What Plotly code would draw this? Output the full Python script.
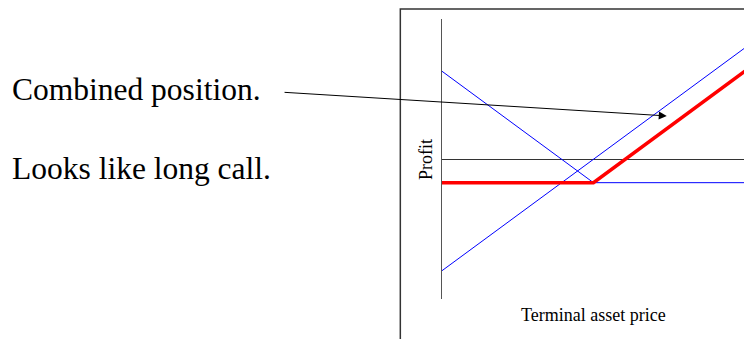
import plotly.graph_objects as go

# Terminal asset price grid and profit profiles (strike 100, stock bought at 100, put premium ~21)
prices = [0, 100, 200]
long_put = [79, -21, -21]
long_stock = [-100, 0, 100]
combined = [-21, -21, 79]

serif = "Liberation Serif, Times New Roman, serif"

fig = go.Figure()
fig.add_trace(go.Scatter(x=prices, y=long_put, mode="lines",
                         line=dict(color="#0000ff", width=1), hoverinfo="skip"))
fig.add_trace(go.Scatter(x=prices, y=long_stock, mode="lines",
                         line=dict(color="#0000ff", width=1), hoverinfo="skip"))
fig.add_trace(go.Scatter(x=prices, y=combined, mode="lines",
                         line=dict(color="#ff0000", width=3.5), hoverinfo="skip"))

fig.update_layout(
    width=744, height=339,
    margin=dict(l=441.7, r=0, t=19, b=40, autoexpand=False),
    paper_bgcolor="white", plot_bgcolor="white",
    showlegend=False,
    xaxis=dict(range=[0, 199.4], showgrid=False, zeroline=False,
               showticklabels=False, ticks="", showline=False, fixedrange=True),
    yaxis=dict(range=[-125.4, 125.9], showgrid=False, zeroline=True,
               zerolinecolor="#333333", zerolinewidth=1,
               showticklabels=False, ticks="", showline=True,
               linecolor="#555555", linewidth=1.5, fixedrange=True),
    shapes=[dict(type="rect", xref="paper", yref="paper",
                 x0=-0.138, x1=1.2, y0=-0.5, y1=1.036,
                 line=dict(color="#333333", width=1.5), fillcolor="rgba(0,0,0,0)",
                 layer="below")],
    annotations=[
        dict(text="Profit", xref="paper", yref="paper", x=-0.053, y=0.5,
             textangle=-90, showarrow=False, xanchor="center", yanchor="middle",
             font=dict(family=serif, size=18, color="black")),
        dict(text="Terminal asset price", xref="paper", yref="paper", x=0.5, y=-0.058,
             showarrow=False, xanchor="center", yanchor="middle",
             font=dict(family=serif, size=18, color="black")),
        dict(text="Combined position.", xref="paper", yref="paper",
             x=-1.43, y=0.75, showarrow=False, xanchor="left", yanchor="middle",
             font=dict(family=serif, size=31.5, color="black")),
        dict(text="Looks like long call.", xref="paper", yref="paper",
             x=-1.43, y=0.467, showarrow=False, xanchor="left", yanchor="middle",
             font=dict(family=serif, size=31.5, color="black")),
        dict(text="", x=148.4, y=38.9, xref="x", yref="y",
             showarrow=True, ax=-383.7, ay=-23.7, arrowhead=2, arrowsize=1.6,
             arrowwidth=1, arrowcolor="black", standoff=0),
    ],
)

fig.write_html("out.html", config={"displayModeBar": False, "staticPlot": True},
               post_script="document.body.style.margin='0';document.body.style.overflow='hidden';")
